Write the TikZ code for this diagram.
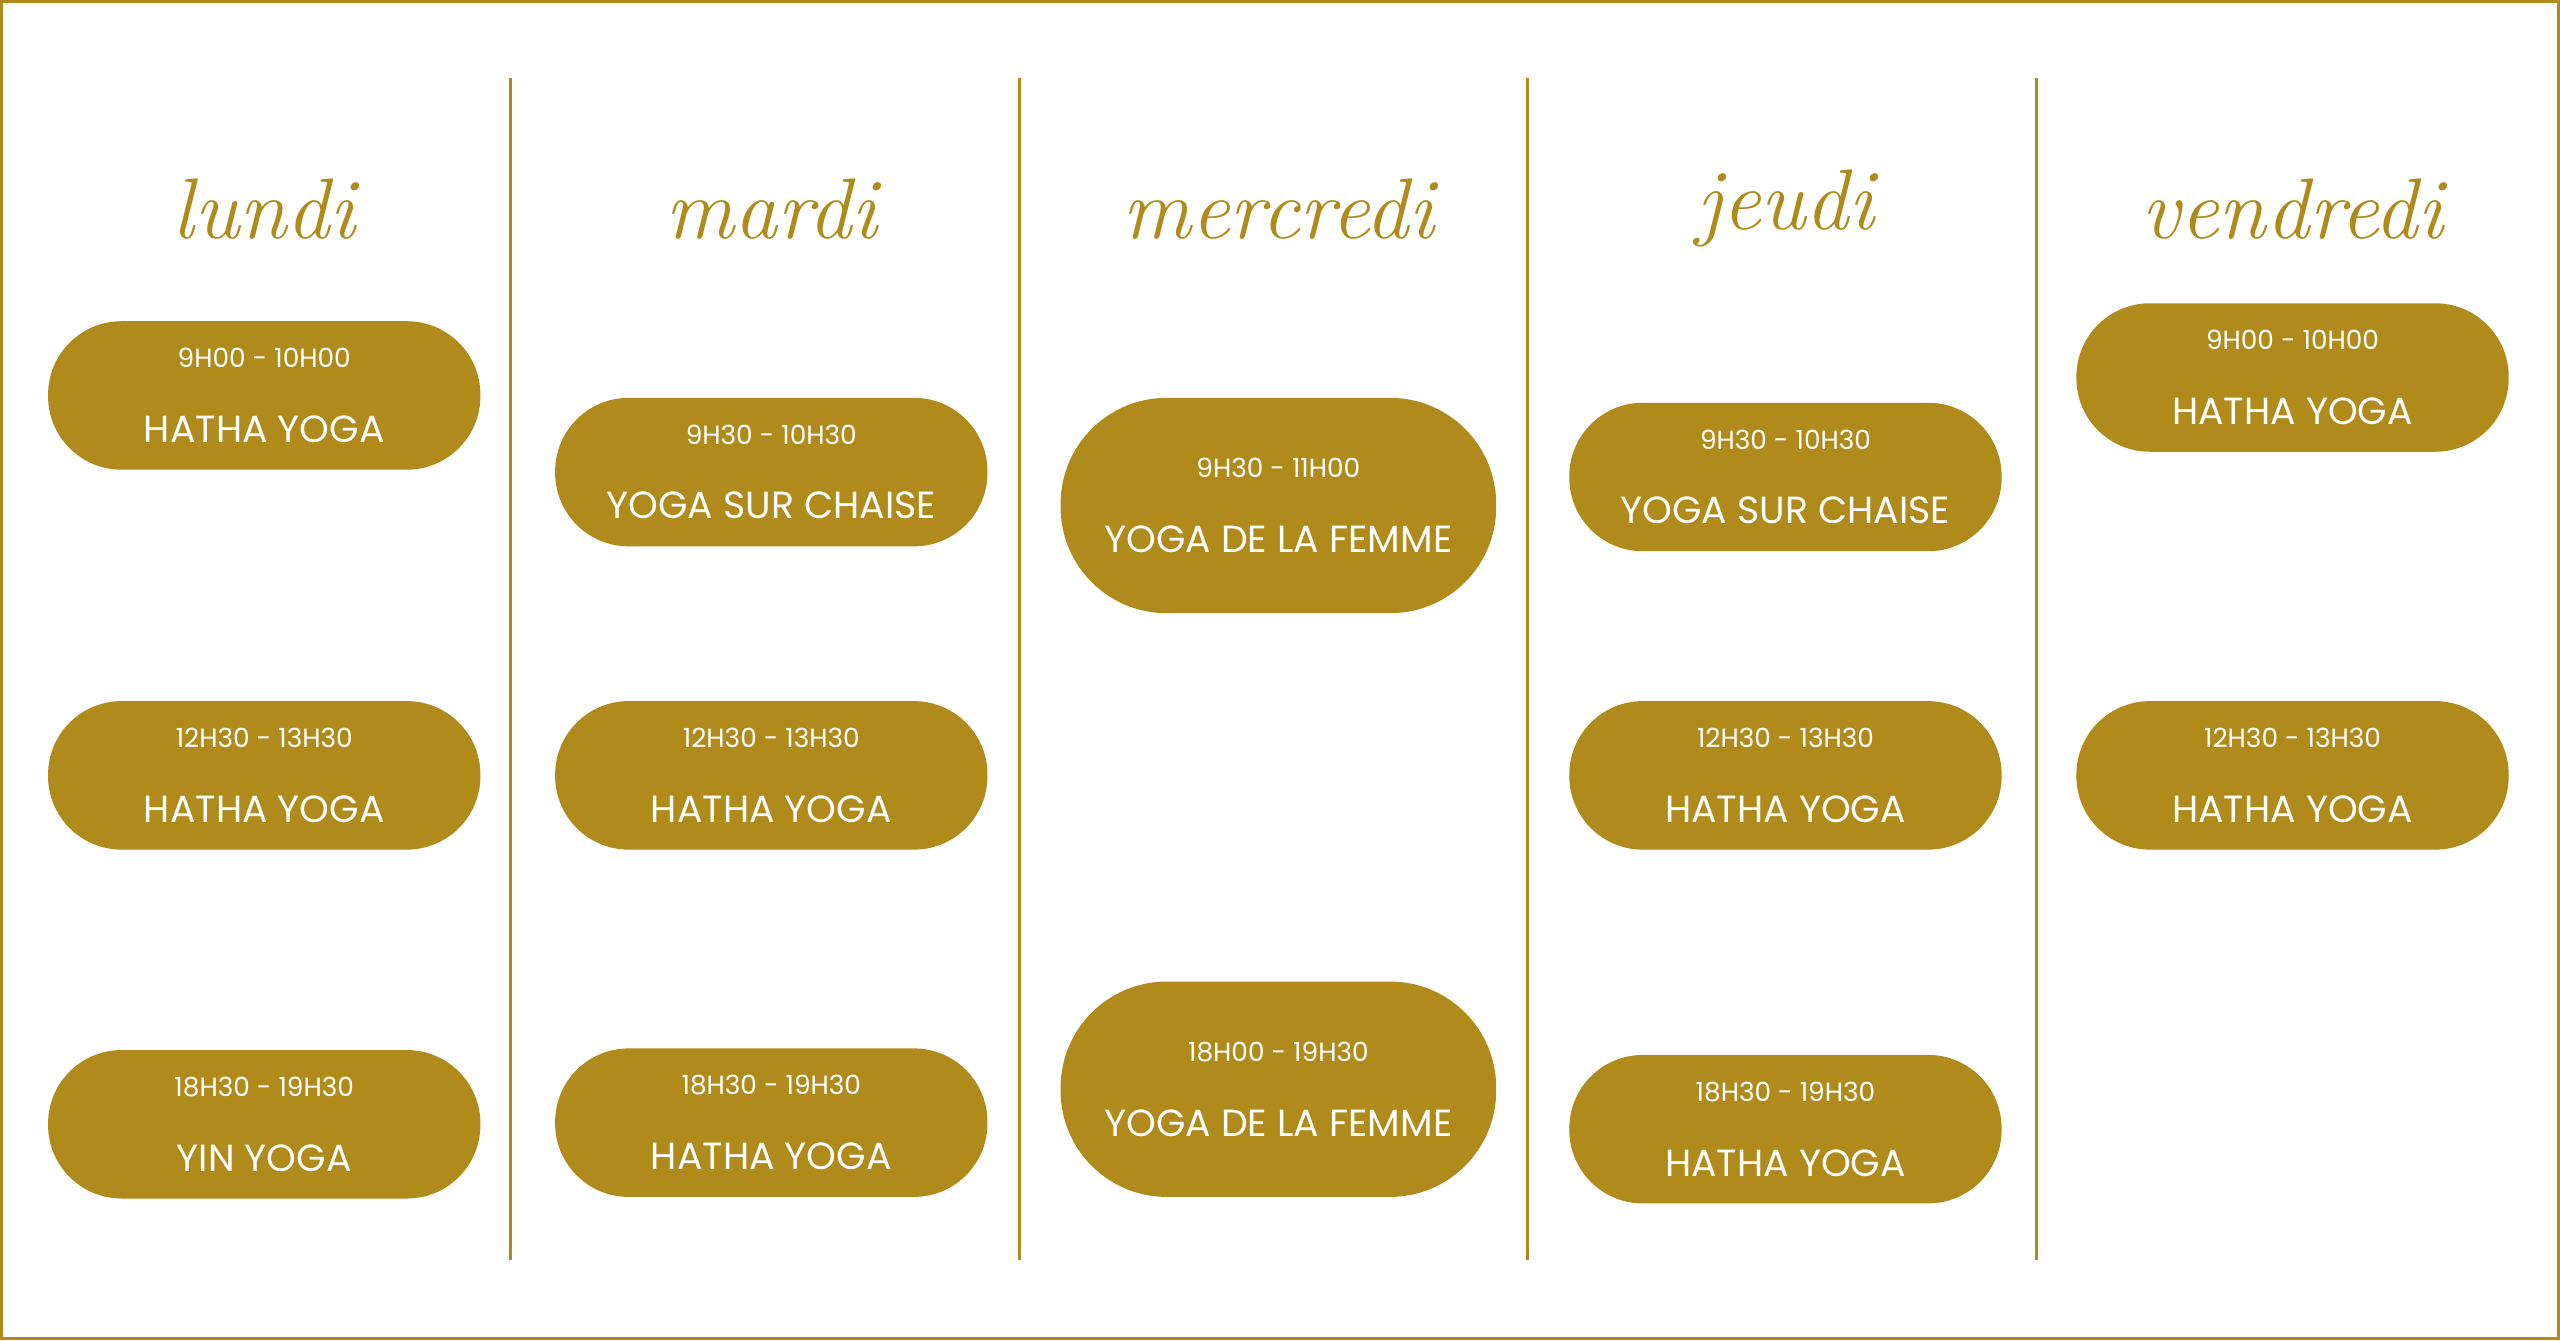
\documentclass[tikz,border=0pt]{standalone}
\usepackage{fontspec}
\setsansfont{Poppins}
\usetikzlibrary{positioning}
\definecolor{gold}{HTML}{B08A1A}

\begin{document}
\begin{tikzpicture}[x=0.01cm, y=-0.01cm,
    slot/.style={fill=gold, rounded corners=45\pgflinewidth, minimum width=2.65cm, minimum height=0.91cm,
      text=white, align=center, font=\sffamily, inner sep=0pt},
    tall/.style={slot, minimum width=2.67cm, minimum height=1.32cm},
    dayname/.style={text=gold, font=\itshape\fontsize{15}{18}\selectfont}]
    \newcommand{\tm}[2]{{\fontsize{4.6}{7}\selectfont #1}\\[1pt]{\fontsize{6.6}{8}\selectfont #2}}
    % Frame
    \draw [gold, line width=0.6pt] (0,0) rectangle (1568,820);
    \useasboundingbox (0,0) rectangle (1568,820);
    \foreach \x in {312,624,936,1248}
      \draw [gold, line width=0.5pt] (\x,47) -- (\x,772);

    % Days
    \node [dayname] (lundi) at (161,127) {lundi};
    \node [dayname] (mardi) at (472,127) {mardi};
    \node [dayname] (mercredi) at (783,127) {mercredi};
    \node [dayname] (jeudi) at (1094,127) {jeudi};
    \node [dayname] (vendredi) at (1405,127) {vendredi};

    % Lundi
    \node [slot, rounded corners=0.45cm] (lun1) at (161,241.5) {\tm{9H00 - 10H00}{HATHA YOGA}};
    \node [slot, rounded corners=0.45cm] (lun2) at (161,474.5) {\tm{12H30 - 13H30}{HATHA YOGA}};
    \node [slot, rounded corners=0.45cm] (lun3) at (161,688.5) {\tm{18H30 - 19H30}{YIN YOGA}};
    % Mardi
    \node [slot, rounded corners=0.45cm] (mar1) at (472,288.5) {\tm{9H30 - 10H30}{YOGA SUR CHAISE}};
    \node [slot, rounded corners=0.45cm] (mar2) at (472,474.5) {\tm{12H30 - 13H30}{HATHA YOGA}};
    \node [slot, rounded corners=0.45cm] (mar3) at (472,687.5) {\tm{18H30 - 19H30}{HATHA YOGA}};
    % Mercredi
    \node [tall, rounded corners=0.65cm] (mer1) at (783,309) {\tm{9H30 - 11H00}{YOGA DE LA FEMME}};
    \node [tall, rounded corners=0.65cm] (mer2) at (783,667) {\tm{18H00 - 19H30}{YOGA DE LA FEMME}};
    % Jeudi
    \node [slot, rounded corners=0.45cm] (jeu1) at (1094,291.5) {\tm{9H30 - 10H30}{YOGA SUR CHAISE}};
    \node [slot, rounded corners=0.45cm] (jeu2) at (1094,474.5) {\tm{12H30 - 13H30}{HATHA YOGA}};
    \node [slot, rounded corners=0.45cm] (jeu3) at (1094,691.5) {\tm{18H30 - 19H30}{HATHA YOGA}};
    % Vendredi
    \node [slot, rounded corners=0.45cm] (ven1) at (1405,230.5) {\tm{9H00 - 10H00}{HATHA YOGA}};
    \node [slot, rounded corners=0.45cm] (ven2) at (1405,474.5) {\tm{12H30 - 13H30}{HATHA YOGA}};
\end{tikzpicture}
\end{document}
